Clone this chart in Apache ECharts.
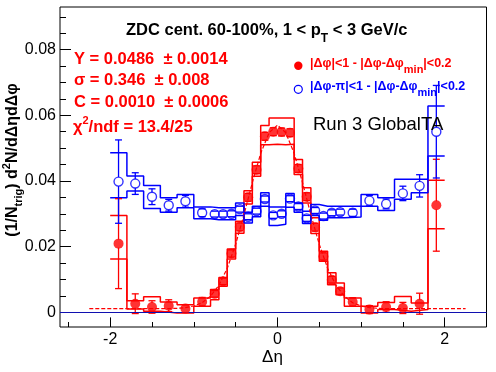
<!DOCTYPE html>
<html><head><meta charset="utf-8">
<script src="https://cdn.jsdelivr.net/npm/echarts@6/dist/echarts.min.js"></script>
<style>html,body{margin:0;padding:0;background:#fff}#c{width:496px;height:372px}</style>
</head><body><div id="c"></div>
<script>
// ---------------- data ----------------
const binEdges = [-2.0,-1.8,-1.6,-1.4,-1.2,-1.0,-0.8,-0.7,-0.6,-0.5,-0.4,-0.3,-0.2,-0.1,0.0,0.1,0.2,0.3,0.4,0.5,0.6,0.7,0.8,1.0,1.2,1.4,1.6,1.8,2.0];
const binCenters = [-1.9,-1.7,-1.5,-1.3,-1.1,-0.9,-0.75,-0.65,-0.55,-0.45,-0.35,-0.25,-0.15,-0.05,0.05,0.15,0.25,0.35,0.45,0.55,0.65,0.75,0.9,1.1,1.3,1.5,1.7,1.9];

const nearY   = [0.0209,0.0026,0.0016,0.0020,0.0011,0.0032,0.0056,0.0094,0.0179,0.0260,0.0350,0.0434,0.0536,0.0550,0.0549,0.0547,0.0438,0.0352,0.0259,0.0170,0.0099,0.0064,0.0031,0.0008,0.0016,0.0013,0.0026,0.0326];
const nearErr = [0.0137,0.0030,0.0019,0.0018,0.0012,0.0013,0.0010,0.0010,0.0011,0.0012,0.0012,0.0012,0.0012,0.0012,0.0012,0.0012,0.0012,0.0012,0.0012,0.0011,0.0010,0.0010,0.0013,0.0012,0.0016,0.0017,0.0032,0.0140];
const nearSysLo = [0.0162,0.0010,0.0003,-0.0002,-0.0002,0.0018,0.0038,0.0079,0.0162,0.0241,0.0330,0.0414,0.0510,0.0512,0.0510,0.0512,0.0420,0.0333,0.0240,0.0155,0.0084,0.0053,0.0018,-0.0002,0.0008,0.0003,0.0008,0.0254];
const nearSysHi = [0.0295,0.0035,0.0047,0.0031,0.0023,0.0043,0.0069,0.0106,0.0193,0.0277,0.0370,0.0457,0.0569,0.0592,0.0592,0.0592,0.0465,0.0379,0.0288,0.0186,0.0120,0.0089,0.0043,0.0018,0.0030,0.0048,0.0028,0.0402];

const awayY   = [0.0398,0.0392,0.0352,0.0326,0.0338,0.0303,0.0299,0.0299,0.0300,0.0314,0.0291,0.0308,0.0345,0.0295,0.0300,0.0346,0.0322,0.0286,0.0310,0.0293,0.0303,0.0305,0.0303,0.0340,0.0330,0.0362,0.0385,0.0550];
const awayErr = [0.0127,0.0033,0.0024,0.0018,0.0018,0.0012,0.0009,0.0009,0.0009,0.0009,0.0009,0.0009,0.0009,0.0009,0.0009,0.0009,0.0009,0.0009,0.0009,0.0009,0.0009,0.0009,0.0011,0.0016,0.0015,0.0022,0.0034,0.0141];
const awaySysLo = [0.0349,0.0369,0.0316,0.0305,0.0318,0.0285,0.0282,0.0282,0.0282,0.0295,0.0272,0.0291,0.0323,0.0264,0.0268,0.0320,0.0305,0.0270,0.0295,0.0280,0.0288,0.0288,0.0290,0.0323,0.0310,0.0344,0.0364,0.0476];
const awaySysHi = [0.0486,0.0415,0.0386,0.0349,0.0359,0.0321,0.0318,0.0318,0.0318,0.0333,0.0305,0.0323,0.0364,0.0321,0.0321,0.0362,0.0333,0.0308,0.0328,0.0323,0.0323,0.0323,0.0323,0.0359,0.0349,0.0405,0.0405,0.0628];

const fitX = [-2.25,-2.0,-1.6,-1.3,-1.2,-1.1,-1.0,-0.9,-0.8,-0.7,-0.6,-0.5,-0.4,-0.3,-0.2,-0.1,0.0,0.1,0.2,0.3,0.4,0.5,0.6,0.7,0.8,0.9,1.0,1.1,1.2,1.3,1.6,2.0,2.25];
const fitY = [0.0011,0.0011,0.0011,0.0011,0.0012,0.0014,0.0019,0.0029,0.0049,0.0082,0.0134,0.0207,0.0297,0.0395,0.0484,0.0547,0.0570,0.0547,0.0484,0.0395,0.0297,0.0207,0.0134,0.0082,0.0049,0.0029,0.0019,0.0014,0.0012,0.0011,0.0011,0.0011,0.0011];

const xMinorTicks = [-2.5,-2.0,-1.5,-1.0,-0.5,0,0.5,1.0,1.5,2.0,2.5];
const xMajorTicks = [-2, 0, 2];
const yMinorTicks = [0,0.005,0.01,0.015,0.02,0.025,0.03,0.035,0.04,0.045,0.05,0.055,0.06,0.065,0.07,0.075,0.08,0.085,0.09];
const yMajorTicks = [0, 0.02, 0.04, 0.06, 0.08];

// ---------------- helpers ----------------
const RED = '#ff0000', BLUE = '#0000ff', FONT = 'Liberation Sans';
function stepLine(vals) {
  const out = [];
  for (let i = 0; i < vals.length; i++) {
    out.push([binEdges[i], vals[i]]);
    out.push([binEdges[i + 1], vals[i]]);
  }
  return out;
}
function stepSeries(vals, color) {
  return { type: 'line', data: stepLine(vals), showSymbol: false, symbol: 'none',
    lineStyle: { color, width: 1.5 }, silent: true, z: 2, clip: true };
}
function errSeries(ys, errs, color, r) {
  return {
    type: 'custom', silent: true, z: 4, clip: true,
    encode: { x: 0, y: 1 },
    data: binCenters.map((x, i) => [x, ys[i], errs[i]]),
    renderItem(params, api) {
      const x = api.value(0), y = api.value(1), e = api.value(2);
      const c = api.coord([x, y]), t = api.coord([x, y + e]), b = api.coord([x, y - e]);
      const cw = 3.5, style = { stroke: color, lineWidth: 1.3, fill: null };
      const ch = [];
      if (c[1] - r > t[1]) ch.push({ type: 'line', shape: { x1: c[0], y1: c[1] - r, x2: c[0], y2: t[1] }, style });
      if (b[1] > c[1] + r) ch.push({ type: 'line', shape: { x1: c[0], y1: c[1] + r, x2: c[0], y2: b[1] }, style });
      ch.push({ type: 'line', shape: { x1: c[0] - cw, y1: t[1], x2: c[0] + cw, y2: t[1] }, style });
      ch.push({ type: 'line', shape: { x1: c[0] - cw, y1: b[1], x2: c[0] + cw, y2: b[1] }, style });
      return { type: 'group', children: ch };
    }
  };
}
function richText(x, y, text, rich, color, extra, align) {
  return Object.assign({ type: 'text', x, y, silent: true, z: 10,
    style: { text, rich, fill: color, align: align || 'left', verticalAlign: 'top',
      fontFamily: FONT, fontSize: 16, fontWeight: 'bold' } }, extra || {});
}
function tok(size, pad, weight) {
  return { fontSize: size, lineHeight: size, padding: [pad, 0, 0, 0], verticalAlign: 'top',
    fontFamily: FONT, fontWeight: weight || 'bold' };
}

// ---------------- chart ----------------
const chart = echarts.init(document.getElementById('c'), null, { renderer: 'canvas' });
const xBase = { type: 'value', min: -2.6, max: 2.5, splitLine: { show: false }, axisLine: { show: false, onZero: false } };
const yBase = { type: 'value', min: -0.0045, max: 0.093, splitLine: { show: false }, axisLine: { show: false, onZero: false } };

chart.setOption({
  animation: false,
  backgroundColor: '#fff',
  grid: { left: 60, right: 9.5, top: 7, bottom: 45, show: true, borderColor: '#000', borderWidth: 1, backgroundColor: 'transparent' },
  xAxis: [
    Object.assign({}, xBase, { position: 'bottom',
      axisTick: { show: true, inside: true, length: 5, customValues: xMinorTicks, lineStyle: { color: '#000' } },
      axisLabel: { show: true, customValues: xMajorTicks, margin: 5, color: '#000', fontFamily: FONT, fontSize: 16,
        formatter: v => String(Math.round(v)) } }),
    Object.assign({}, xBase, { position: 'bottom', offset: 0,
      axisTick: { show: true, inside: true, length: 9.6, customValues: xMajorTicks, lineStyle: { color: '#000' } },
      axisLabel: { show: false } })
  ],
  yAxis: [
    Object.assign({}, yBase, { position: 'left',
      axisTick: { show: true, inside: true, length: 6, customValues: yMinorTicks, lineStyle: { color: '#000' } },
      axisLabel: { show: true, customValues: yMajorTicks, margin: 4, color: '#000', fontFamily: FONT, fontSize: 16,
        formatter: v => (Math.abs(v) < 1e-9 ? '0' : v.toFixed(2)) } }),
    Object.assign({}, yBase, { position: 'left', offset: 0,
      axisTick: { show: true, inside: true, length: 11, customValues: yMajorTicks, lineStyle: { color: '#000' } },
      axisLabel: { show: false } })
  ],
  series: [
    stepSeries(nearSysHi, RED),
    stepSeries(nearSysLo, RED),
    stepSeries(awaySysHi, BLUE),
    stepSeries(awaySysLo, BLUE),
    { type: 'line', data: fitX.map((x, i) => [x, fitY[i]]), showSymbol: false, symbol: 'none', silent: true, z: 3,
      lineStyle: { color: RED, width: 1.2, type: [4, 2] },
      markLine: { silent: true, symbol: 'none', label: { show: false },
        lineStyle: { color: '#1010b0', width: 1.2, type: 'solid' }, data: [{ yAxis: 0 }] } },
    errSeries(nearY, nearErr, RED, 4),
    errSeries(awayY, awayErr, BLUE, 4.5),
    { type: 'scatter', data: binCenters.map((x, i) => [x, nearY[i]]), symbol: 'circle', symbolSize: 10, silent: true, z: 5,
      itemStyle: { color: RED } },
    { type: 'scatter', data: binCenters.map((x, i) => [x, awayY[i]]), symbol: 'circle', symbolSize: 9, silent: true, z: 5,
      itemStyle: { color: 'rgba(0,0,0,0)', borderColor: BLUE, borderWidth: 1.4 } }
  ],
  graphic: [
    // title
    richText(126, 17.5, '{m|ZDC cent. 60-100%, 1 < p}{s|T}{m| < 3 GeV/c}',
      { m: tok(16.5, 4), s: tok(12, 15.5) }, '#000'),
    // fit results
    richText(74, 47, '{m|Y = 0.0486  ± 0.0014}', { m: tok(16.5, 4) }, RED),
    richText(74, 68, '{m|σ = 0.346  ± 0.008}', { m: tok(16.5, 4) }, RED),
    richText(74, 89.5, '{m|C = 0.0010  ± 0.0006}', { m: tok(16.5, 4) }, RED),
    richText(73, 115.3, '{m|χ}{p|2}{m|/ndf = 13.4/25}', { m: tok(16.5, 4), p: tok(11, 0) }, RED),
    // legend
    { type: 'circle', shape: { cx: 298.3, cy: 65.7, r: 4.2 }, style: { fill: RED }, silent: true, z: 10 },
    { type: 'circle', shape: { cx: 298.3, cy: 89.3, r: 4 }, style: { fill: null, stroke: BLUE, lineWidth: 1.2 }, silent: true, z: 10 },
    richText(310, 54, '{m||Δφ|<1 - |Δφ-Δφ}{s|min}{m||<0.2}', { m: tok(12.5, 3), s: tok(11, 10) }, RED),
    richText(310, 77.5, '{m||Δφ-π|<1 - |Δφ-Δφ}{s|min}{m||<0.2}', { m: tok(12.5, 3), s: tok(11, 10) }, BLUE),
    // run label
    { type: 'text', x: 313, y: 125, silent: true, z: 10,
      style: { text: 'Run 3 GlobalTA', fill: '#000', fontFamily: FONT, fontSize: 18.5, align: 'left', verticalAlign: 'middle' } },
    // x axis title
    { type: 'text', x: 272.5, y: 357, silent: true, z: 10,
      style: { text: 'Δη', fill: '#000', fontFamily: FONT, fontSize: 17, align: 'center', verticalAlign: 'middle' } },
    // y axis title (rotated)
    richText(1, 160, '{m|(1/N}{s|trig}{m|) d}{p|2}{m|N/dΔηdΔφ}',
      { m: tok(16, 4), s: tok(11, 12), p: tok(11, 0) }, '#000',
      { rotation: Math.PI / 2 }, 'center')
  ]
});
</script></body></html>
